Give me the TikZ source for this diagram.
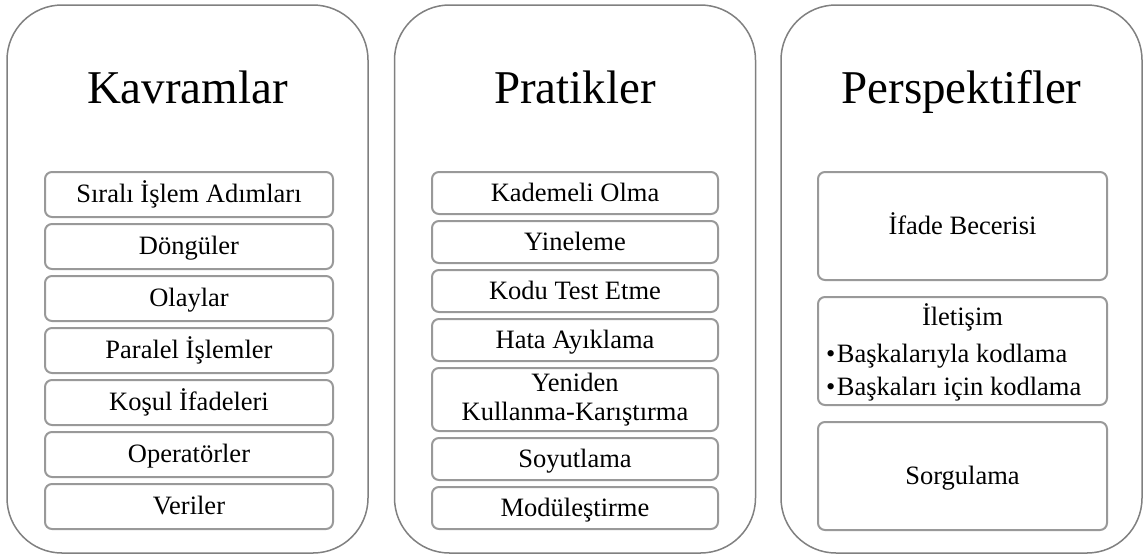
\documentclass[tikz,border=0pt]{standalone}
\usepackage{fontspec}
\setmainfont{Liberation Serif}
\tikzset{
    outerbox/.style={draw=black!50, line width=1.5pt, rounded corners=55pt, minimum width=361, minimum height=548, inner sep=0},
    itembox/.style={draw=black!40, line width=2pt, rounded corners=7pt, inner sep=0, font=\fontsize{26.5}{29.5}\selectfont, text height=21pt, text depth=5pt, align=center},
    title/.style={anchor=base, inner sep=0, font=\fontsize{47}{56}\selectfont},
    itemtext/.style={inner sep=0, font=\fontsize{26.5}{29.5}\selectfont}
}
\begin{document}
\begin{tikzpicture}[x=1pt, y=-1pt]
    \useasboundingbox (0,0) rectangle (1143,558);

    \node[outerbox] (kavBox) at (187.5,279) {};
    \node[outerbox] (praBox) at (575,279) {};
    \node[outerbox] (perBox) at (961.5,279) {};

    \node[title] (kavTitle) at (187.5,103) {Kavramlar};
    \node[title] (praTitle) at (575,103) {Pratikler};
    \node[title] (perTitle) at (961.5,103) {Perspektifler};

    \foreach \t [count=\i] in {Sıralı İşlem Adımları, Döngüler, Olaylar, Paralel İşlemler, Koşul İfadeleri, Operatörler, Veriler}
        \node[itembox, minimum width=288, minimum height=45] (kav\i) at (189,194.5+\i*52-52) {\t};

    \foreach \t/\y [count=\i] in {Kademeli Olma/193, Yineleme/242, Kodu Test Etme/291, Hata Ayıklama/340}
        \node[itembox, minimum width=286, minimum height=42] (pra\i) at (575,\y) {\t};
    \node[itembox, minimum width=286, minimum height=63, text height=, text depth=] (pra5) at (575,399.5) {Yeniden\\Kullanma-Karıştırma};
    \node[itembox, minimum width=286, minimum height=42] (pra6) at (575,459) {Soyutlama};
    \node[itembox, minimum width=286, minimum height=42] (pra7) at (575,508) {Modüleştirme};

    \node[itembox, minimum width=289, minimum height=108] (per1) at (962.5,226) {İfade Becerisi};
    \node[itembox, minimum width=289, minimum height=108] (per2) at (962.5,351) {};
    \node[itembox, minimum width=289, minimum height=108] (per3) at (962.5,476) {Sorgulama};

    \node[itemtext, anchor=base] (per2Title) at (962.5,325) {İletişim};
    \node[itemtext, anchor=base west] (per2a) at (826,362) {•\kern1.5pt Başkalarıyla kodlama};
    \node[itemtext, anchor=base west] (per2b) at (826,395) {•\kern1.5pt Başkaları için kodlama};
\end{tikzpicture}
\end{document}
